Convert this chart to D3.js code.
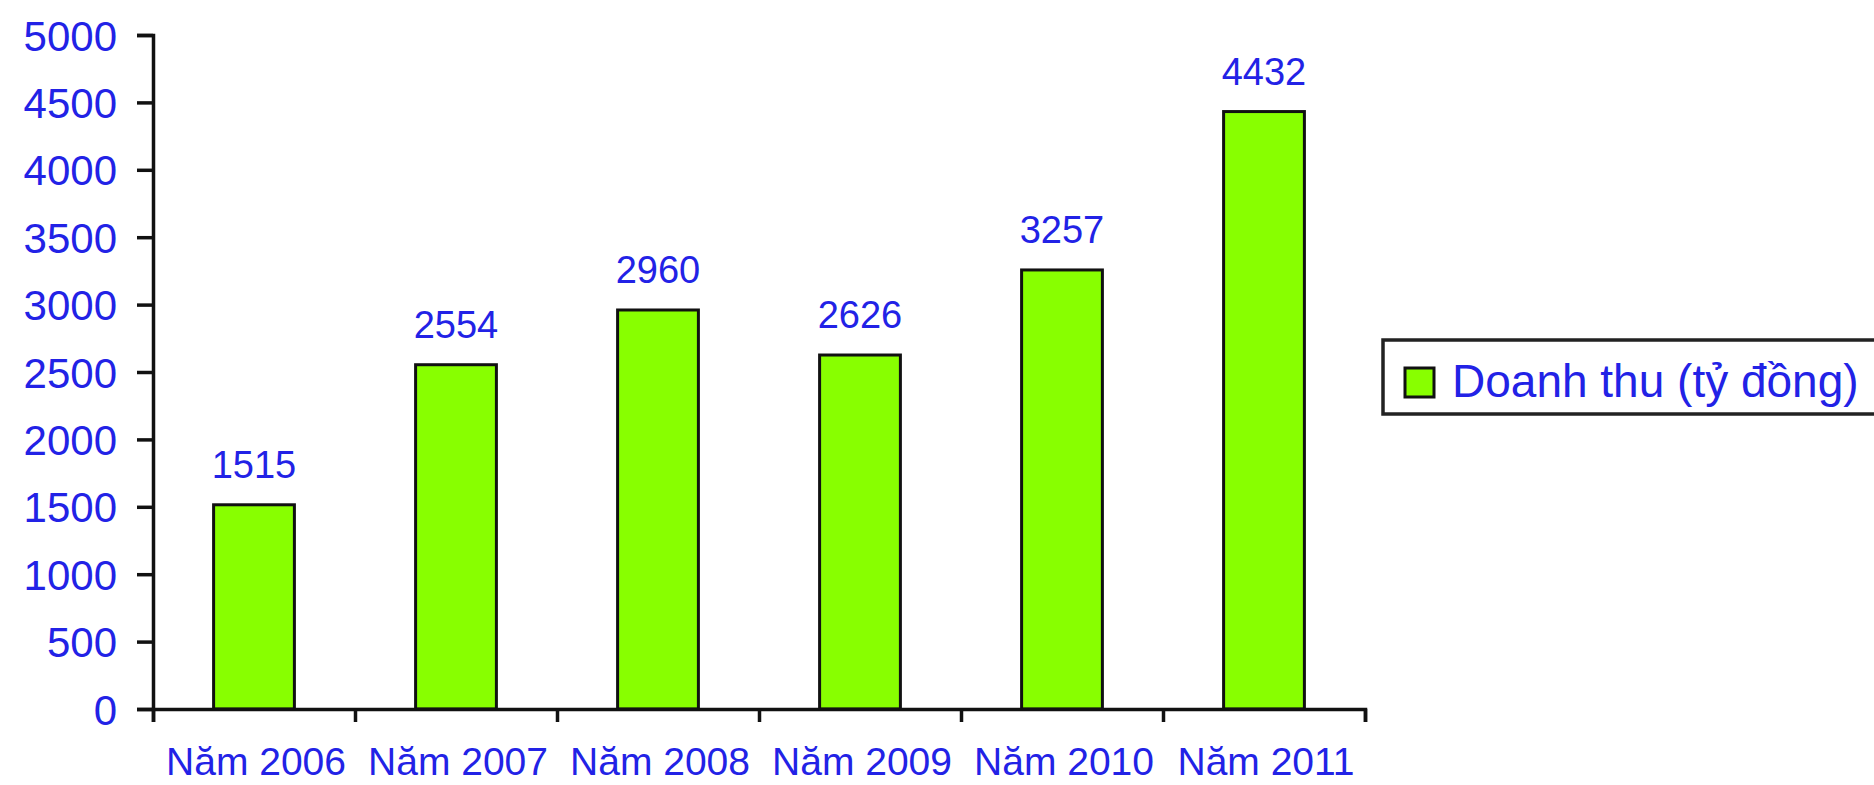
<!DOCTYPE html>
<html>
<head>
<meta charset="utf-8">
<script src="https://cdn.jsdelivr.net/npm/d3@7"></script>
<style>
  html, body { margin: 0; padding: 0; background: #fff; }
  svg { display: block; }
  text { font-family: "Liberation Sans", Arial, sans-serif; fill: #2222e6; }
</style>
</head>
<body>
<svg id="chart" width="1874" height="785"></svg>
<script>
const categories = ["Năm 2006", "Năm 2007", "Năm 2008", "Năm 2009", "Năm 2010", "Năm 2011"];
const revenue = [1515, 2554, 2960, 2626, 3257, 4432];
const yTicks = [0, 500, 1000, 1500, 2000, 2500, 3000, 3500, 4000, 4500, 5000];
const seriesName = "Doanh thu (tỷ đồng)";

(function () {
const svg = d3.select("#chart");
const plotLeft = 153, plotRight = 1365, plotTop = 35, plotBottom = 709;
const barColor = "#88ff00";
const textColor = "#2222e6";

const x = d3.scaleBand().domain(categories).range([plotLeft, plotRight]).paddingInner(0.6).paddingOuter(0.3);
const xBoundaries = d3.scaleLinear().domain([0, categories.length]).range([plotLeft, plotRight]);
const y = d3.scaleLinear().domain([0, 5000]).range([plotBottom, plotTop]);

// Bars
svg.append("g").selectAll("rect")
  .data(revenue)
  .join("rect")
  .attr("x", (d, i) => x(categories[i]))
  .attr("y", d => y(d))
  .attr("width", x.bandwidth())
  .attr("height", d => y(0) - y(d))
  .attr("fill", barColor)
  .attr("stroke", "#111")
  .attr("stroke-width", 3);

// Y axis
const yAxis = svg.append("g")
  .attr("transform", `translate(${plotLeft},0)`)
  .call(d3.axisLeft(y).tickValues(yTicks).tickSize(16).tickPadding(20).tickFormat(d3.format("d")));
yAxis.select(".domain").attr("stroke", "#111").attr("stroke-width", 3.5);
yAxis.selectAll(".tick line").attr("stroke", "#111").attr("stroke-width", 3.5);
yAxis.selectAll(".tick text")
  .attr("fill", textColor)
  .style("font-size", "42px")
  .attr("dy", "0.36em");

// X axis (ticks at category boundaries)
const xAxis = svg.append("g")
  .attr("transform", `translate(0,${plotBottom})`)
  .call(d3.axisBottom(xBoundaries).ticks(categories.length).tickSize(13).tickFormat(""));
xAxis.select(".domain").attr("stroke", "#111").attr("stroke-width", 3.5);
xAxis.selectAll(".tick line").attr("stroke", "#111").attr("stroke-width", 3.5);

// X labels
svg.append("g").selectAll("text")
  .data(categories)
  .join("text")
  .attr("x", d => x(d) + x.bandwidth() / 2 + 2)
  .attr("y", 775)
  .attr("text-anchor", "middle")
  .style("font-size", "39px")
  .text(d => d);

// Value labels
svg.append("g").selectAll("text")
  .data(revenue)
  .join("text")
  .attr("x", (d, i) => x(categories[i]) + x.bandwidth() / 2)
  .attr("y", d => y(d) - 27)
  .attr("text-anchor", "middle")
  .style("font-size", "38px")
  .text(d => d);

// Legend
const legend = svg.append("g");
legend.append("rect")
  .attr("x", 1383).attr("y", 340)
  .attr("width", 520).attr("height", 74)
  .attr("fill", "#fff")
  .attr("stroke", "#222").attr("stroke-width", 3.5);
legend.append("rect")
  .attr("x", 1405).attr("y", 368)
  .attr("width", 29).attr("height", 29)
  .attr("fill", barColor)
  .attr("stroke", "#111").attr("stroke-width", 3);
legend.append("text")
  .attr("x", 1452).attr("y", 397)
  .style("font-size", "46px")
  .text(seriesName);
})();
</script>
</body>
</html>
